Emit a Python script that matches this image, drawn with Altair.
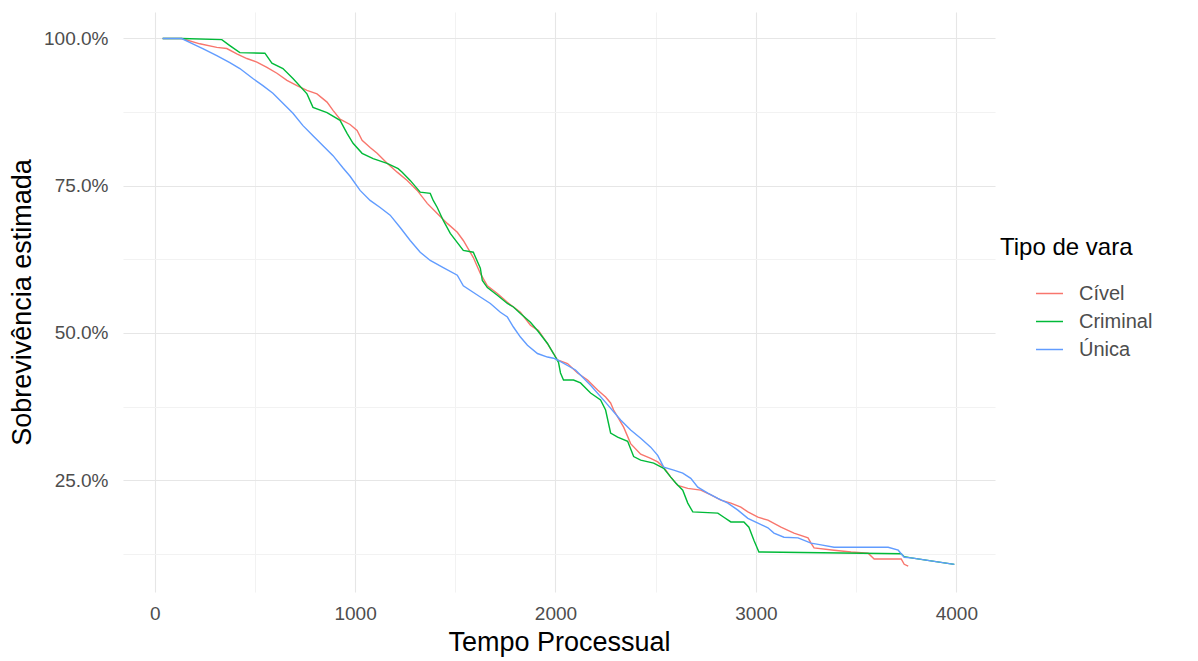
import altair as alt
import pandas as pd

# ---- data (tempo in days, survival in %) ----
civel_t = [40, 135, 225, 310, 360, 410, 460, 510, 560, 610, 660, 710, 760, 810, 860, 890, 925, 975,
           1010, 1035, 1075, 1110, 1160, 1210, 1260, 1310, 1360, 1410, 1460, 1510, 1540, 1590, 1625,
           1660, 1710, 1760, 1825, 1875, 1915, 1960, 2010, 2060, 2110, 2160, 2210, 2250, 2275, 2290,
           2340, 2375, 2425, 2475, 2510, 2540, 2575, 2610, 2660, 2725, 2775, 2825, 2875, 2925, 2960,
           3010, 3060, 3125, 3190, 3260, 3275, 3290, 3390, 3475, 3560, 3590, 3725, 3740, 3760]
civel_s = [100, 100, 99.1, 98.5, 98.3, 97.4, 96.6, 96.0, 95.1, 94.1, 92.9, 92.0, 91.2, 90.6, 89.2, 87.8, 86.3, 85.4,
           84.4, 82.7, 81.5, 80.5, 78.8, 77.3, 75.9, 74.2, 72.0, 70.3, 68.6, 67.1, 65.7, 62.8, 60.1,
           58.0, 56.7, 55.2, 53.5, 51.3, 50.4, 48.2, 45.4, 44.8, 43.2, 42.0, 40.3, 39.1, 38.1, 36.9,
           34.0, 31.2, 29.4, 28.7, 28.1, 27.2, 25.5, 24.1, 23.6, 23.3, 22.5, 21.6, 21.1, 20.4, 19.6,
           18.7, 18.2, 17.0, 16.0, 15.2, 14.3, 13.5, 13.1, 12.8, 12.6, 11.6, 11.6, 10.7, 10.4]

criminal_t = [40, 135, 335, 375, 425, 550, 585, 640, 690, 760, 790, 860, 925, 960, 990, 1035, 1090,
              1160, 1215, 1235, 1275, 1325, 1375, 1390, 1410, 1440, 1475, 1540, 1590, 1625, 1635,
              1660, 1710, 1760, 1790, 1825, 1875, 1910, 1960, 1990, 2015, 2025, 2040, 2090, 2125,
              2175, 2225, 2250, 2275, 2310, 2360, 2390, 2425, 2490, 2540, 2575, 2600, 2635, 2660,
              2685, 2810, 2840, 2875, 2940, 2965, 2990, 3015, 3725, 3740, 3775, 3890, 3990]
criminal_s = [100, 100, 99.8, 98.8, 97.6, 97.5, 95.8, 94.9, 93.2, 90.6, 88.3, 87.4, 86.1, 83.9, 82.2, 80.5, 79.6,
              78.8, 77.9, 77.3, 75.9, 73.9, 73.7, 72.5, 71.3, 69.1, 66.9, 64.0, 63.7, 61.0, 58.9,
              57.7, 56.4, 55.0, 54.4, 53.3, 51.8, 50.4, 48.2, 46.5, 45.0, 43.2, 42.0, 42.0, 41.5,
              39.8, 38.6, 36.9, 33.0, 32.3, 31.6, 29.0, 28.4, 27.9, 27.0, 25.5, 24.5, 23.3, 21.1,
              19.6, 19.4, 18.7, 17.9, 17.9, 17.0, 14.8, 12.8, 12.5, 12.0, 11.8, 11.2, 10.7]

unica_t = [40, 135, 190, 240, 310, 375, 425, 490, 540, 590, 640, 690, 740, 790, 840, 890, 940, 975,
           1025, 1075, 1125, 1175, 1225, 1275, 1325, 1375, 1440, 1510, 1540, 1625, 1675, 1725, 1760,
           1790, 1825, 1860, 1910, 1960, 1990, 2010, 2100, 2175, 2250, 2325, 2375, 2425, 2475, 2510,
           2540, 2590, 2635, 2675, 2710, 2760, 2810, 2860, 2910, 2960, 3010, 3060, 3090, 3140, 3210,
           3275, 3325, 3390, 3660, 3710, 3740, 3775, 3890, 3990]
unica_s = [100, 100, 99.1, 98.3, 97.1, 95.9, 94.9, 93.2, 92.0, 90.7, 89.0, 87.3, 85.2, 83.5, 81.8, 80.1, 78.0, 76.6,
           74.2, 72.5, 71.3, 70.0, 67.9, 65.7, 63.7, 62.3, 61.1, 59.8, 58.0, 56.1, 55.0, 53.5, 52.7,
           51.0, 49.3, 47.9, 46.5, 45.9, 45.7, 45.4, 43.7, 41.1, 38.2, 35.2, 33.5, 32.1, 30.6, 29.2,
           27.2, 26.7, 26.2, 25.3, 23.8, 22.8, 21.9, 21.1, 19.9, 18.5, 17.7, 16.9, 16.0, 15.3, 15.2,
           14.3, 14.0, 13.6, 13.6, 13.1, 11.9, 11.8, 11.2, 10.7]

categories = ["Cível", "Criminal", "Única"]
colors = ["#F8766D", "#00BA38", "#619CFF"]
x_ticks = [0, 500, 1000, 1500, 2000, 2500, 3000, 3500, 4000]
y_ticks = [12.5, 25, 37.5, 50, 62.5, 75, 87.5, 100]

series = {"Cível": (civel_t, civel_s), "Criminal": (criminal_t, criminal_s), "Única": (unica_t, unica_s)}
rows = []
for name, (ts, ss) in series.items():
    assert len(ts) == len(ss), name
    for i, (t, s) in enumerate(zip(ts, ss)):
        rows.append({"tempo": t, "surv": s, "tipo": name, "ord": i})
df = pd.DataFrame(rows)

FONT = "Liberation Sans"

chart = alt.Chart(df).mark_line(strokeWidth=1.4).encode(
    x=alt.X("tempo:Q",
            scale=alt.Scale(domain=[-158, 4193], nice=False, zero=False),
            axis=alt.Axis(values=x_ticks, title="Tempo Processual",
                          labelExpr="datum.value % 1000 === 0 ? datum.label : ''",
                          format="d",
                          gridColor={"condition": {"test": "datum.value % 1000 === 0", "value": "#E6E6E6"},
                                     "value": "#F2F2F2"},
                          gridWidth=1.1, ticks=False, domain=False,
                          labelFontSize=19, labelColor="#4D4D4D", labelPadding=12,
                          titleFontSize=27, titleFontWeight="normal", titleColor="#000000",
                          titlePadding=6)),
    y=alt.Y("surv:Q",
            scale=alt.Scale(domain=[6, 104.5], nice=False, zero=False),
            axis=alt.Axis(values=y_ticks, title="Sobrevivência estimada",
                          labelExpr="datum.value % 25 === 0 ? format(datum.value, '.1f') + '%' : ''",
                          gridColor={"condition": {"test": "datum.value % 25 === 0", "value": "#E6E6E6"},
                                     "value": "#F2F2F2"},
                          gridWidth=1.1, ticks=False, domain=False,
                          labelFontSize=19, labelColor="#4D4D4D", labelPadding=15,
                          titleFontSize=27, titleFontWeight="normal", titleColor="#000000",
                          titlePadding=7)),
    color=alt.Color("tipo:N",
                    scale=alt.Scale(domain=categories, range=colors),
                    legend=alt.Legend(title="Tipo de vara", orient="none", legendX=877, legendY=224,
                                      symbolType="stroke", symbolSize=729, symbolStrokeWidth=1.5,
                                      symbolOffset=35, labelOffset=15,
                                      titleFontSize=24, titleFontWeight="normal", titleColor="#000000",
                                      titlePadding=19, labelFontSize=20, labelColor="#4D4D4D",
                                      rowPadding=3, padding=0)),
    detail="tipo:N",
    order="ord:Q",
).properties(
    width=872, height=580,
    padding={"left": 123, "top": 12, "right": 203, "bottom": 69},
    autosize="none",
    background="#FFFFFF",
).configure(font=FONT).configure_view(stroke=None)

chart.save("out.html", embed_options={"renderer": "svg", "actions": False})
